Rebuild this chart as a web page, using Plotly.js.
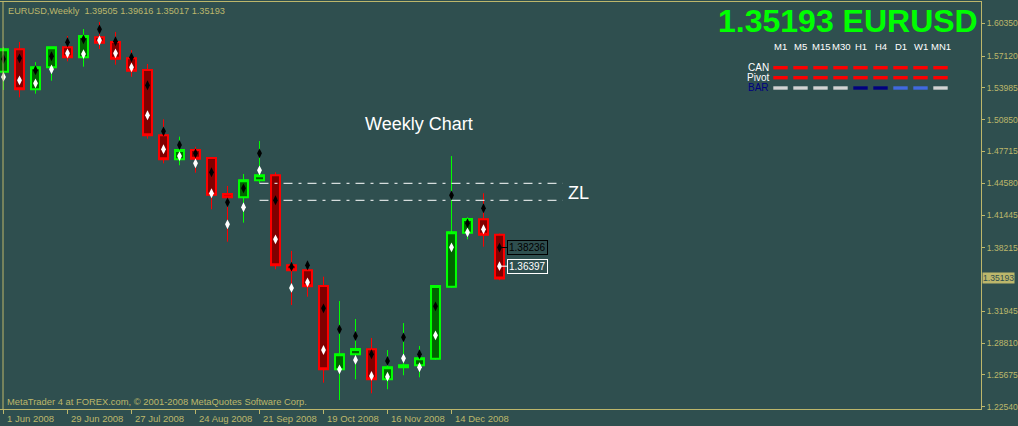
<!DOCTYPE html>
<html><head><meta charset="utf-8">
<script src="https://cdn.plot.ly/plotly-3.0.1.min.js"></script>
<style>html,body{margin:0;padding:0;background:#2F4F4F;overflow:hidden}#chart{width:1018px;height:426px}</style>
</head><body><div id="chart"></div>
<script>
// ---------- data ----------
const symbol = 'EURUSD', period = 'Weekly';
const weeks = ['2008-06-01','2008-06-08','2008-06-15','2008-06-22','2008-06-29','2008-07-06','2008-07-13','2008-07-20',
  '2008-07-27','2008-08-03','2008-08-10','2008-08-17','2008-08-24','2008-08-31','2008-09-07','2008-09-14',
  '2008-09-21','2008-09-28','2008-10-05','2008-10-12','2008-10-19','2008-10-26','2008-11-02','2008-11-09',
  '2008-11-16','2008-11-23','2008-11-30','2008-12-07','2008-12-14','2008-12-21','2008-12-28','2009-01-04'];
const open  = [1.5558,1.5779,1.5384,1.5601,1.5798,1.5700,1.5897,1.5851,1.5690,1.5575,1.4931,1.4694,1.4786,1.4707,1.4352,1.4319,
  1.4487,1.4536,1.3649,1.3599,1.3444,1.2623,1.2771,1.2820,1.2524,1.2643,1.2662,1.2727,1.3437,1.3970,1.4102,1.39505];
const high  = [1.5801,1.5851,1.5653,1.5800,1.5910,1.5979,1.6048,1.5949,1.5772,1.5634,1.5088,1.4917,1.4818,1.4712,1.4431,1.4549,
  1.4874,1.4566,1.3790,1.3678,1.3536,1.3296,1.3119,1.2932,1.2813,1.3079,1.2853,1.3451,1.4726,1.4122,1.4359,1.39616];
const low   = [1.5377,1.5305,1.5341,1.5469,1.5660,1.5607,1.5782,1.5627,1.5508,1.4897,1.4654,1.4635,1.4562,1.4201,1.3881,1.4069,
  1.4457,1.3609,1.3257,1.3339,1.2491,1.2320,1.2524,1.2386,1.2426,1.2564,1.2544,1.2715,1.3428,1.3905,1.3832,1.35017];
const close = [1.5779,1.5384,1.5601,1.5798,1.5700,1.5910,1.5844,1.5686,1.5568,1.4931,1.4694,1.4786,1.4700,1.4345,1.4319,1.4487,
  1.4536,1.3649,1.3599,1.3441,1.2623,1.2771,1.2823,1.2524,1.2643,1.2662,1.2731,1.3444,1.3974,1.4105,1.3950,1.35193];
const blackPts = [1.5683,1.5690,1.5572,1.5710,1.5848,1.5877,1.5976,1.5858,1.5700,1.5424,1.4970,1.4835,1.4753,1.4566,1.4270,1.4408,
  1.4753,1.4290,1.3635,1.3649,1.3224,1.3017,1.2951,1.2771,1.2705,1.2938,1.2771,1.3244,1.4339,1.4063,1.4211,1.38236];
const whitePts = [1.5506,1.5473,1.5443,1.5581,1.5739,1.5732,1.5867,1.5739,1.5601,1.5128,1.4793,1.4726,1.4654,1.4359,1.4053,1.4221,
  1.4585,1.3905,1.3425,1.3481,1.2813,1.2623,1.2715,1.2557,1.2550,1.2731,1.2643,1.2958,1.3826,1.3974,1.4004,1.36397];
const zlLevels = [1.44571, 1.42895];
const zlStart = '2008-09-21', zlEnd = '2009-01-31 15:36';
const yTickVals = [1.22540,1.25675,1.28810,1.31945,1.38215,1.41445,1.44580,1.47715,1.50850,1.53985,1.57120,1.60350];
const xTickDates = ['2008-06-01','2008-06-29','2008-07-27','2008-08-24','2008-09-21','2008-10-19','2008-11-16','2008-12-14'];
const xTickLabels = ['1 Jun 2008','29 Jun 2008','27 Jul 2008','24 Aug 2008','21 Sep 2008','19 Oct 2008','16 Nov 2008','14 Dec 2008'];
const timeframes = ['M1','M5','M15','M30','H1','H4','D1','W1','MN1'];
const rowNames = ['CAN','Pivot','BAR'];
const canColors   = ['#FF0000','#FF0000','#FF0000','#FF0000','#FF0000','#FF0000','#FF0000','#FF0000','#FF0000'];
const pivotColors = ['#FF0000','#FF0000','#FF0000','#FF0000','#FF0000','#FF0000','#FF0000','#FF0000','#FF0000'];
const barColors   = ['#D3D3D3','#D3D3D3','#D3D3D3','#D3D3D3','#000080','#000080','#4169E1','#4169E1','#D3D3D3'];
const chartLabel = 'Weekly Chart';
const copyright = 'MetaTrader 4 at FOREX.com, \u00A9 2001-2008 MetaQuotes Software Corp.';

// ---------- layout helpers ----------
const W = 1018, H = 426, ML = 0, MR = 37, MT = 2, MB = 17;
const PW = W - ML - MR, PH = H - MT - MB;
const X = px => (px - ML) / PW;
const Y = py => (H - MB - py) / PH;
const FG = '#BDB76B', BG = '#2F4F4F';
const FONT = 'Liberation Sans, Arial, sans-serif';
const DAY = 86400000, base = Date.UTC(2008, 5, 1);
const iso = ms => new Date(ms).toISOString().replace('T', ' ').replace('Z', '');
const xRange = [iso(base - 1.53125 * DAY), iso(base + 427.65625 * DAY)];
const yRange = [1.22313, 1.62451];
const last = close.length - 1;

const bodyHigh = open.map((o, i) => Math.max(o, close[i]));
const bodyLow  = open.map((o, i) => Math.min(o, close[i]));

const candleStyle = w => ({
  increasing: {line: {color: '#00FF00', width: w}, fillcolor: '#006400'},
  decreasing: {line: {color: '#FF0000', width: w}, fillcolor: '#800000'}
});

const traces = [
  Object.assign({type: 'candlestick', x: weeks, open: open, high: high, low: low, close: close,
    whiskerwidth: 0, hoverinfo: 'skip', showlegend: false}, candleStyle(1)),
  Object.assign({type: 'candlestick', x: weeks, open: open, high: bodyHigh, low: bodyLow, close: close,
    whiskerwidth: 0, hoverinfo: 'skip', showlegend: false}, candleStyle(2)),
];
zlLevels.forEach(v => traces.push({type: 'scatter', mode: 'lines', x: [zlStart, zlEnd], y: [v, v],
  line: {color: '#FFFFFF', width: 1, dash: '9px,6px,3px,6px'}, hoverinfo: 'skip', showlegend: false}));
traces.push({type: 'scatter', mode: 'markers', x: weeks, y: blackPts,
  marker: {symbol: 'diamond-tall', size: 7, color: '#000000'}, hoverinfo: 'skip', showlegend: false});
traces.push({type: 'scatter', mode: 'markers', x: weeks, y: whitePts,
  marker: {symbol: 'diamond-tall', size: 7, color: '#FFFFFF'}, hoverinfo: 'skip', showlegend: false});

const ann = [];
// header
ann.push({xref: 'paper', yref: 'paper', x: X(6), y: Y(11), xanchor: 'left', yanchor: 'middle', showarrow: false,
  text: symbol + ',' + period + '  ' + [open[last], high[last], low[last], close[last]].map(v => v.toFixed(5)).join(' '),
  font: {family: FONT, size: 9.2, color: FG}});
// copyright
ann.push({xref: 'paper', yref: 'paper', x: X(5), y: Y(401), xanchor: 'left', yanchor: 'middle', showarrow: false,
  text: copyright, font: {family: FONT, size: 9.4, color: FG}});
// big price
ann.push({xref: 'paper', yref: 'paper', x: X(980), y: Y(21), xanchor: 'right', yanchor: 'middle', showarrow: false,
  text: '<b>' + close[last].toFixed(5) + ' ' + symbol + '</b>', font: {family: FONT, size: 32, color: '#00FF00'}});
// chart label
ann.push({xref: 'paper', yref: 'paper', x: X(419), y: Y(124), xanchor: 'center', yanchor: 'middle', showarrow: false,
  text: chartLabel, font: {family: FONT, size: 18, color: '#FFFFFF'}});
// ZL
ann.push({xref: 'paper', yref: 'paper', x: X(566), y: Y(193), xanchor: 'left', yanchor: 'middle', showarrow: false,
  text: 'ZL', font: {family: FONT, size: 18, color: '#FFFFFF'}});
// x tick labels
xTickDates.forEach((d, i) => ann.push({xref: 'x', yref: 'paper', x: d, y: 0, xanchor: 'left', yanchor: 'top',
  xshift: 1, yshift: -2, showarrow: false, text: xTickLabels[i], font: {family: FONT, size: 9.5, color: FG}}));
// current price tag
ann.push({xref: 'paper', yref: 'y', x: 1, y: close[last], xanchor: 'left', yanchor: 'middle', xshift: 1,
  showarrow: false, text: close[last].toFixed(5), bgcolor: FG, borderpad: 0,
  font: {family: FONT, size: 8.6, color: BG}});
// marker value tags on last candle
[[blackPts[last], '#000000'], [whitePts[last], '#FFFFFF']].forEach(([v, c]) => ann.push({
  xref: 'x', yref: 'y', x: weeks[last], y: v, showarrow: true, arrowhead: 0, arrowwidth: 1, arrowcolor: c,
  ax: 28, ay: 0, standoff: 2, text: v.toFixed(5), bordercolor: c, borderwidth: 1, borderpad: 1,
  font: {family: FONT, size: 10, color: c}}));

// indicator panel
const shapes = [];
const colX = i => 780.5 + 20 * i;
const rowY = [67.7, 77.7, 88];
timeframes.forEach((tf, i) => ann.push({xref: 'paper', yref: 'paper', x: X(colX(i)), y: Y(46.5), xanchor: 'center',
  yanchor: 'middle', showarrow: false, text: tf, font: {family: FONT, size: 9.5, color: '#FFFFFF'}}));
rowNames.forEach((r, j) => ann.push({xref: 'paper', yref: 'paper', x: X(771), y: Y(rowY[j]), xanchor: 'right',
  yanchor: 'middle', showarrow: false, text: r, font: {family: FONT, size: 10, color: j === 2 ? '#000080' : '#FFFFFF'}}));
[canColors, pivotColors, barColors].forEach((cols, j) => cols.forEach((c, i) => shapes.push({
  type: 'rect', xref: 'paper', yref: 'paper', x0: X(colX(i) - 7.2), x1: X(colX(i) + 7.2),
  y0: Y(rowY[j] + 1.7), y1: Y(rowY[j] - 1.7), fillcolor: c, line: {width: 0}})));
// left frame line
shapes.push({type: 'line', xref: 'paper', yref: 'paper', x0: X(3), x1: X(3), y0: 0, y1: 1,
  line: {color: FG, width: 1}, layer: 'above'});

const layout = {
  width: W, height: H, margin: {l: ML, r: MR, t: MT, b: MB, pad: 0},
  paper_bgcolor: BG, plot_bgcolor: BG, showlegend: false, hovermode: false,
  boxgap: 0.2, dragmode: false,
  xaxis: {type: 'date', range: xRange, rangeslider: {visible: false}, showgrid: false, zeroline: false,
    tickvals: xTickDates, showticklabels: false, ticks: 'outside', ticklen: 4, tickcolor: FG, tickwidth: 1,
    showline: true, linecolor: FG, linewidth: 1, mirror: true, fixedrange: true},
  yaxis: {side: 'right', range: yRange, showgrid: false, zeroline: false,
    tickvals: yTickVals, ticktext: yTickVals.map(v => v.toFixed(5)), ticks: 'outside', ticklen: 3, tickcolor: FG,
    tickfont: {family: FONT, size: 8.6, color: FG}, showline: true, linecolor: FG, linewidth: 1, fixedrange: true},
  annotations: ann, shapes: shapes
};
Plotly.newPlot('chart', traces, layout, {staticPlot: true, displayModeBar: false});
</script></body></html>
